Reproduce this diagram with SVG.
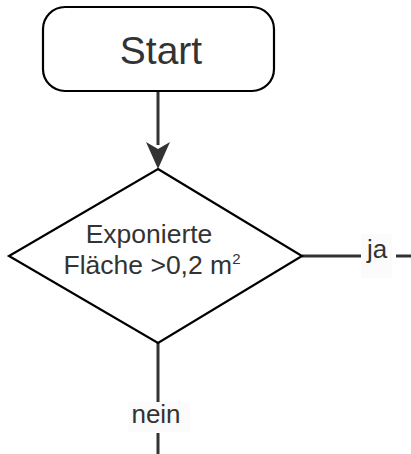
<svg xmlns="http://www.w3.org/2000/svg" width="411" height="454" viewBox="0 0 411 454">
<style>
.t{font-family:"Liberation Sans",Arial,sans-serif;fill:#333333;}
.shape{fill:#ffffff;stroke:#000000;stroke-width:2.2;}
.edge{stroke:#333333;stroke-width:3;fill:none;}
.lbl{fill:#fbfbfb;}
</style>
<rect width="411" height="454" fill="#ffffff"/>
<g id="connectors">
<path class="edge" d="M158,92 V145"/>
<path d="M146,142 L158,149 L170,142 L158,169 Z" fill="#333333"/>
<path class="edge" d="M302,256 H362"/>
<rect class="lbl" x="361" y="234" width="31" height="44"/>
<text class="t" x="377" y="258" font-size="26" text-anchor="middle">ja</text>
<path class="edge" d="M396,256 H411"/>
<path class="edge" d="M158,343 V402"/>
<rect class="lbl" x="128" y="402" width="62" height="30"/>
<text class="t" x="156" y="423" font-size="26" text-anchor="middle">nein</text>
<path class="edge" d="M158,433 V454"/>
</g>
<g id="start">
<rect class="shape" x="43" y="7" width="231" height="84" rx="22" ry="22"/>
<text class="t" x="161" y="64" font-size="39" text-anchor="middle">Start</text>
</g>
<g id="decision">
<polygon class="shape" points="158,169 302,256 158,343 9,256"/>
<text class="t" x="149" y="243" font-size="26.5" text-anchor="middle">Exponierte</text>
<text class="t" x="152" y="274" font-size="26.5" text-anchor="middle">Fläche &gt;0,2 m<tspan font-size="15" dy="-10">2</tspan></text>
</g>
</svg>
